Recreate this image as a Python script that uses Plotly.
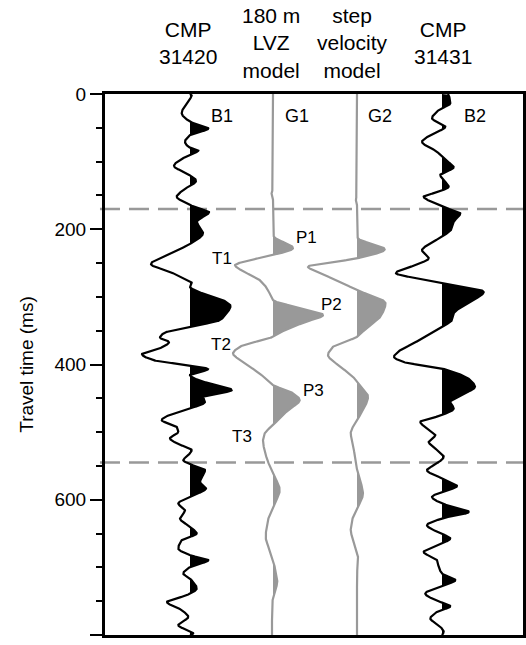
import numpy as np
import plotly.graph_objects as go

# ---------------- data (travel time in ms, trace amplitude in plot units) ----------------
B1_T = [0, 1.5, 13.8, 28.1, 41, 51, 60.7, 70.6, 78, 83.6, 90.2, 106.5, 117.3, 128.3, 142, 151.9, 161.7,
        169.1, 174.6, 188.9, 205.6, 221.9, 235.7, 251.5, 262.9, 272.6, 279.1, 285.1, 292.5, 304.7, 313.6,
        324.4, 334.3, 344.2, 354, 360.2, 366.9, 373.8, 384.6, 393.5, 400.9, 406.8, 415.7, 423.1, 437.9,
        447.8, 455.2, 465, 472.3, 482.2, 492.2, 499.6, 509.3, 516.7, 526.6, 534, 541.4, 547.3, 556.2,
        573.5, 582.9, 595.7, 605.5, 615.4, 627.7, 640.1, 649.9, 659.8, 672, 682, 689.4, 699.3, 709.1,
        716.4, 731.2, 741.1, 751.1, 763.3, 773.2, 785.5, 797.8, 800]
B1_A = [0, 1.7, -3.3, -8.3, 0, 18.3, 0, -5, -1.7, 8.3, -1, -16, -3.3, 6, -6.7, -13.3, -3.3, 8.3, 19, 7,
        13, 0, -20, -39, -20, -6.7, 1.7, 0, 8.3, 33, 40.5, 36.7, 30, 0, -26.7, -30, -21, -26.7, -48, -36.7,
        -3.3, 18, 0, 8.3, 41.7, 13, 15, 0, -16.7, -28.3, -13.3, -11.7, -20, -13.3, 1.7, -1.7, -6.7, 0, 15,
        10, 16, 0, -11.7, -5, -10, 0, 6.7, -8.3, -11.7, 0, 18.3, 0, -6.7, 0, 6.7, -3.3, -23, -8.3, -1.7,
        -11.7, 3.3, 0]

G1_T = [0, 140, 146.4, 153, 206, 211.1, 227.8, 238.2, 248.1, 253, 260.4, 275.2, 290, 299.9, 304.7, 315.8,
        326.9, 337.3, 347.6, 359, 373.8, 383.6, 393.5, 413.2, 430.5, 440.8, 452.7, 467.5, 489.6, 501.9,
        511.8, 536.5, 561.1, 585.8, 605.5, 630.2, 654.9, 674.6, 699.3, 721.5, 743.6, 763.3, 800]
G1_A = [0, 0, -1.5, 0, 0, 1, 20, 0, -30, -38, -32, -13.3, -5, -2, 0, 25, 50, 32, 14, 0, -33, -40, -33,
        -13.3, 0, 18, 26.7, 15, 0, -8.3, -10, -6.7, 0, 6.7, 1.7, -5, -7.3, -3.3, 1.7, 4.3, 0, -1, -1]

G2_T = [0, 150, 156, 162, 210, 213.5, 229.7, 243, 255.5, 262.9, 277.7, 290, 309.6, 326.9, 346.6, 359,
        373.8, 386.1, 398.4, 418.2, 425.6, 447.8, 467.5, 482.3, 501.9, 516.7, 546.3, 566.1, 590.7, 610.5,
        625.3, 645, 664.7, 684.5, 714, 800]
G2_A = [0, 0, -1.2, 0, 0, 1, 27.7, 0, -49, -40, -17, 0, 28.5, 24.5, 9, 0, -24, -29, -21, -4, 0, 11, 6, 0,
        -6.3, -4, -1.3, 2, 6, 1, -4, -6.3, -2.3, 1, 0, 0]

B2_T = [0, 1.5, 13.8, 23.7, 35.9, 48.4, 60.7, 70.6, 85.4, 97.6, 108.4, 119.8, 127.2, 137.1, 144.5, 151.9,
        161.7, 169.1, 176.5, 188.9, 198.7, 211.1, 220.9, 230.8, 243, 250.4, 264.8, 275.2, 280, 292.5, 309.6,
        324.4, 334.3, 344.2, 359, 368.8, 378.7, 388.6, 396.5, 405.8, 423.1, 433, 442.8, 455.2, 465, 474.9,
        484.8, 494.5, 504.4, 514.4, 524.1, 536.5, 546.3, 556.2, 568.5, 579.9, 588.3, 595.7, 605.5, 617.9,
        627.7, 637.6, 647.5, 657.3, 667.2, 677.1, 689.4, 699.3, 709.1, 719, 728.8, 738.7, 748.5, 757.4,
        765.8, 775.6, 785.5, 795.4, 800]
B2_A = [6, 6.7, 8.3, -3.3, -10, 3.3, -11.7, -20, -5, 3.3, 11.7, -1.7, 1.7, 6.7, -3.3, -18.3, -6.7, 5,
        18.3, 11.7, 10, 0, -11.7, -20, -13.3, -21.7, -46, -15, 0, 41.7, 25, 11.7, 10, 0, -18.3, -28.3,
        -41.7, -48, -38, 0, 28.3, 33, 23, 8.3, 11.7, 0, -21.7, -15, -6.7, -13.3, -6.7, 1.7, -5, -15, 0, 15,
        0, -10, 0, 26.7, 0, -15, -5, 8.3, -5, -18.3, -5, -3.3, 0, 13.3, -3.3, -16.7, -6.7, 8.3, -5, -11.7,
        -3.3, 1.7, 0]

TRACE_NAMES = ["B1", "G1", "G2", "B2"]
TRACE_BASE = [85, 168, 252, 337]
TRACE_COLORS = ["#000000", "#999999", "#999999", "#000000"]
HEADERS = ["CMP<br>31420", "180 m<br>LVZ<br>model", "step<br>velocity<br>model", "CMP<br>31431"]
HEADER_X = [83, 166, 247.5, 337.5]
MARKER_LINES = [170, 545]
PEAK_LABELS = ["P1", "P2", "P3", "T1", "T2", "T3"]
PEAK_X = [201, 226, 208, 117, 116, 137]
PEAK_T = [212, 312, 438, 243, 371, 507]
TRACE_LABEL_X = [117, 192, 275, 370]
TRACE_LABEL_T = [33, 33, 33, 33]

FONT = "Liberation Sans, Arial, Helvetica, sans-serif"


def pchip(x, y, xn):
    x = np.asarray(x, float)
    y = np.asarray(y, float)
    h = np.diff(x)
    d = np.diff(y) / h
    m = np.zeros_like(y)
    m[0], m[-1] = d[0], d[-1]
    for k in range(1, len(x) - 1):
        if d[k - 1] * d[k] > 0:
            w1 = 2 * h[k] + h[k - 1]
            w2 = h[k] + 2 * h[k - 1]
            m[k] = (w1 + w2) / (w1 / d[k - 1] + w2 / d[k])
    idx = np.clip(np.searchsorted(x, xn, side="right") - 1, 0, len(x) - 2)
    hk = h[idx]
    s = (xn - x[idx]) / hk
    h00 = 2 * s**3 - 3 * s**2 + 1
    h10 = s**3 - 2 * s**2 + s
    h01 = -2 * s**3 + 3 * s**2
    h11 = s**3 - s**2
    return h00 * y[idx] + h10 * hk * m[idx] + h01 * y[idx + 1] + h11 * hk * m[idx + 1]


def positive_lobes(tt, a, base):
    """Closed polygons (separated by None) of the positive parts of a wiggle."""
    xs, ys = [], []
    pos = a > 0
    i, n = 0, len(a)
    while i < n:
        if pos[i]:
            j = i
            while j < n and pos[j]:
                j += 1
            t0 = tt[max(i - 1, 0)]
            t1 = tt[min(j, n - 1)]
            xs += [base] + list(base + a[i:j]) + [base, base, None]
            ys += [t0] + list(tt[i:j]) + [t1, t0, None]
            i = j
        else:
            i += 1
    return xs, ys


fig = go.Figure()
tt = np.arange(0, 800.01, 0.25)
for T, A, base, col in zip([B1_T, G1_T, G2_T, B2_T], [B1_A, G1_A, G2_A, B2_A], TRACE_BASE, TRACE_COLORS):
    a = pchip(T, A, tt)
    fx, fy = positive_lobes(tt, a, base)
    fig.add_trace(go.Scatter(x=fx, y=fy, mode="lines", fill="toself", fillcolor=col,
                             line=dict(width=0, color="rgba(0,0,0,0)"), hoverinfo="skip",
                             showlegend=False))
    fig.add_trace(go.Scatter(x=base + a, y=tt, mode="lines", line=dict(width=2.2, color=col),
                             showlegend=False))

for yv in MARKER_LINES:
    fig.add_shape(type="line", xref="paper", x0=-0.012, x1=1, yref="y", y0=yv, y1=yv,
                  line=dict(color="#999999", width=2.5, dash="20px,9px"), layer="below")

for txt, xv in zip(HEADERS, HEADER_X):
    fig.add_annotation(text=txt, x=xv, xref="x", y=1.094, yref="paper", showarrow=False,
                       xanchor="center", yanchor="middle", font=dict(size=21, color="black", family=FONT))

for txt, xv, tv in zip(TRACE_NAMES, TRACE_LABEL_X, TRACE_LABEL_T):
    fig.add_annotation(text=txt, x=xv, y=tv, xref="x", yref="y", showarrow=False,
                       font=dict(size=18, color="black", family=FONT))

for txt, xv, tv in zip(PEAK_LABELS, PEAK_X, PEAK_T):
    fig.add_annotation(text=txt, x=xv, y=tv, xref="x", yref="y", showarrow=False,
                       font=dict(size=17, color="black", family=FONT))

fig.update_xaxes(range=[0, 418], showgrid=False, zeroline=False, showticklabels=False, ticks="",
                 showline=True, linewidth=3, linecolor="black", mirror=True)
fig.update_yaxes(range=[800, 0], showgrid=False, zeroline=False, tickmode="linear", tick0=0, dtick=200,
                 ticks="outside", ticklen=12, tickwidth=2, tickcolor="black",
                 showline=True, linewidth=3, linecolor="black", mirror=True,
                 tickfont=dict(size=19, color="black", family=FONT),
                 title=dict(text="Travel time (ms)", font=dict(size=19, color="black", family=FONT),
                            standoff=16),
                 minor=dict(dtick=50, tick0=0, ticks="outside", ticklen=6, tickwidth=2, tickcolor="black",
                            showgrid=False))

fig.update_layout(width=526, height=645, margin=dict(l=105, r=3, t=94, b=10, autoexpand=False),
                  plot_bgcolor="white", paper_bgcolor="white", showlegend=False,
                  font=dict(family=FONT, color="black"))

fig.write_html("out.html")
